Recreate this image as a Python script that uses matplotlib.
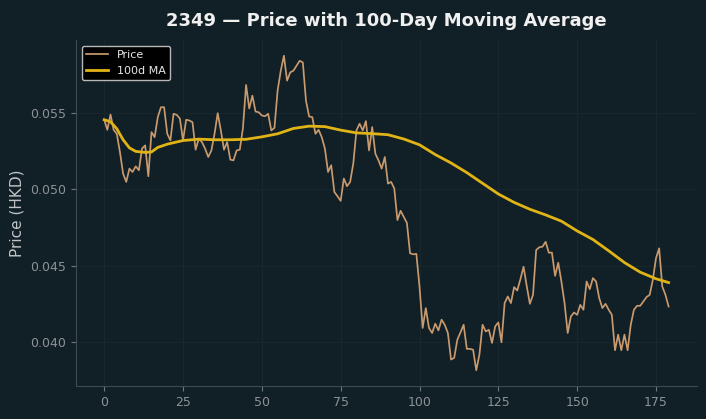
import numpy as np
import matplotlib
matplotlib.use("Agg")
import matplotlib.pyplot as plt

# daily closing price (HKD), day 0..179
price = [
    0.05456, 0.0539, 0.0549, 0.0539, 0.05364, 0.05244, 0.05103, 0.05049, 0.05136, 0.05114,
    0.05151, 0.05125, 0.05267, 0.05288, 0.05086, 0.05375, 0.05342, 0.05473, 0.05538, 0.05538,
    0.05364, 0.05321, 0.05495, 0.05488, 0.05464, 0.05321, 0.05456, 0.05451, 0.0544, 0.0526,
    0.05332, 0.0531, 0.05267, 0.05212, 0.05255, 0.05364, 0.05499, 0.05386, 0.0526, 0.0531,
    0.05195, 0.0519, 0.05255, 0.0526, 0.0540, 0.05684, 0.0553, 0.05614, 0.0551, 0.05505,
    0.05484, 0.05479, 0.05495, 0.05386, 0.05403, 0.05647, 0.05777, 0.05875, 0.05712, 0.05766,
    0.05777, 0.0581, 0.05842, 0.05831, 0.0558, 0.05477, 0.05473, 0.05364, 0.0539, 0.05342,
    0.05267, 0.05114, 0.05158, 0.04983, 0.04955, 0.04925, 0.05071, 0.05021, 0.05049, 0.05169,
    0.05386, 0.0543, 0.05386, 0.05447, 0.05255, 0.05408, 0.05234, 0.0519, 0.05136, 0.05212,
    0.05038, 0.05049, 0.05006, 0.04799, 0.0486, 0.0482, 0.04781, 0.04582, 0.04575, 0.04578,
    0.04364, 0.04093, 0.04223, 0.04093, 0.0406, 0.04121, 0.04077, 0.04147, 0.04114, 0.0406,
    0.03886, 0.03897, 0.04016, 0.04064, 0.04114, 0.03956, 0.03956, 0.0395, 0.03816, 0.03918,
    0.04114, 0.0407, 0.04081, 0.03995, 0.04103, 0.04129, 0.03999, 0.04256, 0.04299, 0.04256,
    0.0436, 0.04338, 0.04412, 0.04494, 0.04368, 0.04251, 0.0431, 0.04603, 0.04621, 0.04625,
    0.04657, 0.04586, 0.04586, 0.04434, 0.0452, 0.04397, 0.04256, 0.0406, 0.04168, 0.04194,
    0.04179, 0.04244, 0.04212, 0.04397, 0.04347, 0.04419, 0.04397, 0.04288, 0.04223, 0.04251,
    0.04212, 0.04179, 0.03947, 0.04049, 0.03947, 0.04049, 0.03947, 0.04114, 0.04212, 0.04238,
    0.04238, 0.04266, 0.04295, 0.0431, 0.04408, 0.04549, 0.04614, 0.04364, 0.0431, 0.04233,
]
days = np.arange(len(price))

# 100-day moving average at these days
ma_days = [0, 2, 4, 6, 8, 10, 13, 15, 17, 20, 25, 30, 35, 40, 45, 50, 55, 60, 65, 70,
           75, 80, 85, 90, 95, 100, 105, 110, 115, 120, 125, 130, 135, 140, 145, 150,
           155, 160, 165, 170, 175, 179]
ma_values = [0.05456, 0.05443, 0.05397, 0.05325, 0.05272, 0.05249, 0.05242, 0.05245, 0.05275,
             0.05296, 0.0532, 0.05329, 0.05325, 0.05325, 0.05328, 0.05344, 0.05364, 0.05399,
             0.05414, 0.05411, 0.05388, 0.0537, 0.05365, 0.05358, 0.0533, 0.05292, 0.05228,
             0.05173, 0.0511, 0.0504, 0.0497, 0.04915, 0.0487, 0.04833, 0.04792, 0.04728,
             0.04672, 0.04598, 0.04521, 0.04458, 0.04415, 0.0439]

bg = "#111f26"

fig = plt.figure(figsize=(7.06, 4.19), dpi=100, facecolor=bg)
ax = fig.add_axes([0.1076, 0.0788, 0.8794, 0.8257])
ax.set_facecolor(bg)

ax.plot(days, price, color="#c89a6e", linewidth=1.25, label="Price")
ax.plot(ma_days, ma_values, color="#e0b416", linewidth=2.0, label="100d MA")

ax.set_title("2349 — Price with 100-Day Moving Average", color="#f0f0f0",
             fontsize=13, fontweight="bold", pad=10)
ax.set_ylabel("Price (HKD)", color="#c0c4c6", fontsize=11)

ax.set_xticks([0, 25, 50, 75, 100, 125, 150, 175])
ax.set_yticks([0.040, 0.045, 0.050, 0.055])
ax.yaxis.set_major_formatter(matplotlib.ticker.FormatStrFormatter("%.3f"))

# very faint grid, almost the background colour
ax.grid(True, color="#18272e", linewidth=0.8)
ax.set_axisbelow(True)
ax.spines['top'].set_visible(False)
ax.spines['right'].set_visible(False)
ax.spines['left'].set_color("#3d4a50")
ax.spines['bottom'].set_color("#3d4a50")
ax.tick_params(axis='both', colors="#8c9396", labelsize=9)
ax.tick_params(axis='both', which='both', color="#6f777b")

leg = ax.legend(loc="upper left", fontsize=8, facecolor="#000000",
                edgecolor="#b8b8b8", framealpha=1.0, labelcolor="#e8e8e8")

fig.savefig("out.png", dpi=100, facecolor=bg)
